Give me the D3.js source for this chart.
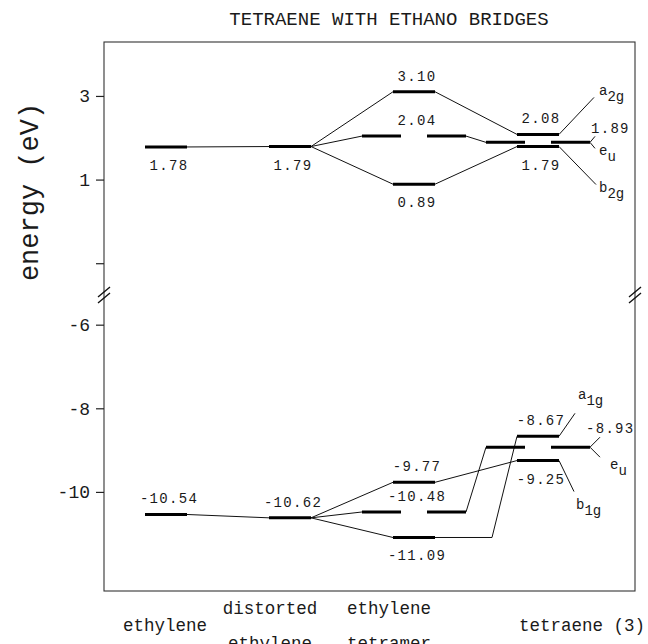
<!DOCTYPE html>
<html>
<head>
<meta charset="utf-8">
<script src="https://cdn.jsdelivr.net/npm/d3@7"></script>
<style>
  body { margin: 0; background: #fff; }
  text { font-family: "Liberation Mono", "DejaVu Sans Mono", monospace; fill: #1a1a1a; }
</style>
</head>
<body>
<svg id="chart" width="648" height="644"></svg>
<script>
// ---- data ----
const title = "TETRAENE WITH ETHANO BRIDGES";
const categories = ["ethylene", "distorted\nethylene", "ethylene\ntetramer", "tetraene (3)"];
const yTickValues = [3, 1, -1, -6, -8, -10];
const yTickLabels = ["3", "1", "", "-6", "-8", "-10"];

// orbital levels (eV); pair = degenerate level drawn as two half bars
const upperLevels = [
  { id: "u0", col: 0, e: 1.78 },
  { id: "u1", col: 1, e: 1.79 },
  { id: "u2a", col: 2, e: 3.10 },
  { id: "u2b", col: 2, e: 2.04, pair: true },
  { id: "u2c", col: 2, e: 0.89 },
  { id: "u3a", col: 3, e: 2.08 },
  { id: "u3b", col: 3, e: 1.89, pair: true },
  { id: "u3c", col: 3, e: 1.79 }
];
const lowerLevels = [
  { id: "l0", col: 0, e: -10.54 },
  { id: "l1", col: 1, e: -10.62 },
  { id: "l2a", col: 2, e: -9.77 },
  { id: "l2b", col: 2, e: -10.48, pair: true },
  { id: "l2c", col: 2, e: -11.09 },
  { id: "l3a", col: 3, e: -8.67 },
  { id: "l3b", col: 3, e: -8.93, pair: true },
  { id: "l3c", col: 3, e: -9.25 }
];
const links = [
  ["u0", "u1"], ["u1", "u2a"], ["u1", "u2b"], ["u1", "u2c"],
  ["u2a", "u3a"], ["u2b", "u3b"], ["u2c", "u3c"],
  ["l0", "l1"], ["l1", "l2a"], ["l1", "l2b"], ["l1", "l2c"],
  ["l2a", "l3c"], ["l2b", "l3b"], ["l2c", "l3a", "elbow"]
];
const symmetry = [
  { id: "u3a", sym: "a", sub: "2g" },
  { id: "u3b", sym: "e", sub: "u" },
  { id: "u3c", sym: "b", sub: "2g" },
  { id: "l3a", sym: "a", sub: "1g" },
  { id: "l3b", sym: "e", sub: "u" },
  { id: "l3c", sym: "b", sub: "1g" }
];

// ---- layout ----
const width = 648, height = 644;
const margin = { top: 42, right: 13, bottom: 53, left: 104 };
const innerW = width - margin.left - margin.right;
const innerH = height - margin.top - margin.bottom;
const breakY = 253;

const labelSide = {
  u0: "below", u1: "below", u2a: "above", u2b: "above", u2c: "below",
  u3a: "above", u3b: "right", u3c: "below",
  l0: "above", l1: "above", l2a: "above", l2b: "above", l2c: "below",
  l3a: "above", l3b: "right", l3c: "below"
};
const leaders = {
  u3a: { dx: 35, dy: -37, lx: 40, ly: -39 },
  u3c: { dx: 37, dy: 38, lx: 40, ly: 45 },
  l3a: { dx: 16, dy: -23, lx: 19, ly: -37 },
  l3c: { dx: 15, dy: 31, lx: 17, ly: 48 },
  u3b: { dx: 5, dy: 6, lx: 9, ly: 13, fork: true },
  l3b: { dx: 10, dy: 10, lx: 20, ly: 22, fork: true }
};
const catLabelShift = [-1, -20, -25, 44];

const svg = d3.select("#chart");
const g = svg.append("g").attr("transform", `translate(${margin.left},${margin.top})`);

const x = d3.scalePoint().domain(d3.range(categories.length)).range([62, 434]);
const y = d3.scaleLinear()
  .domain([-12.37, -5.29, -1.76, 4.29])
  .range([innerH, breakY, breakY, 0]);

// title
svg.append("text")
  .attr("x", 389).attr("y", 25)
  .attr("text-anchor", "middle")
  .style("font-size", "19px")
  .text(title);

// frame
g.append("rect")
  .attr("width", innerW).attr("height", innerH)
  .attr("fill", "none").attr("stroke", "#333").attr("stroke-width", 1.1);

// y axis
const yAxis = g.append("g")
  .call(d3.axisLeft(y).tickValues(yTickValues)
    .tickFormat((d, i) => yTickLabels[i]).tickSize(8).tickPadding(6));
yAxis.select(".domain").remove();
yAxis.selectAll(".tick line").attr("stroke", "#222").attr("stroke-width", 1.2);
yAxis.selectAll(".tick text")
  .style("font-family", "'Liberation Mono', monospace")
  .style("font-size", "18px").attr("fill", "#1a1a1a");

// axis break marks
[0, innerW].forEach(bx => {
  [-3, 3].forEach(o => {
    g.append("line")
      .attr("x1", bx - 6).attr("y1", breakY + o + 5)
      .attr("x2", bx + 6).attr("y2", breakY + o - 5)
      .attr("stroke", "#111").attr("stroke-width", 1.4);
  });
});

// y axis title
svg.append("text")
  .attr("transform", "translate(38,192) rotate(-90)")
  .attr("text-anchor", "middle")
  .style("font-size", "27px")
  .text("energy (eV)");

// category labels
categories.forEach((c, i) => {
  const lines = c.split("\n");
  const t = svg.append("text")
    .attr("text-anchor", "middle")
    .style("font-size", "17.5px");
  const cx = margin.left + x(i) + catLabelShift[i];
  if (lines.length === 1) {
    t.attr("x", cx).attr("y", 631).text(c);
  } else {
    lines.forEach((ln, k) => {
      t.append("tspan").attr("x", cx).attr("y", 614 + k * 35).text(ln);
    });
  }
});

// levels
const levels = upperLevels.concat(lowerLevels);
const byId = new Map(levels.map(d => [d.id, d]));
const halfW = 21, pairGap = 13, pairW = 39;

function ends(d) {
  const cx = x(d.col);
  return d.pair ? [cx - pairGap - pairW, cx + pairGap + pairW] : [cx - halfW, cx + halfW];
}
function pieces(d) {
  const cx = x(d.col);
  if (!d.pair) return [[cx - halfW, cx + halfW]];
  return [[cx - pairGap - pairW, cx - pairGap], [cx + pairGap, cx + pairGap + pairW]];
}

// connectors
const line = d3.line();
links.forEach(([a, b, route]) => {
  const from = byId.get(a), to = byId.get(b);
  const p0 = [ends(from)[1], y(from.e)];
  const p1 = [ends(to)[0], y(to.e)];
  const pts = route === "elbow" ? [p0, [p1[0] - 25, p0[1]], p1] : [p0, p1];
  g.append("path")
    .attr("d", line(pts))
    .attr("fill", "none").attr("stroke", "#111").attr("stroke-width", 1);
});

// bars
levels.forEach(d => {
  pieces(d).forEach(([x0, x1]) => {
    g.append("line")
      .attr("x1", x0).attr("x2", x1)
      .attr("y1", y(d.e)).attr("y2", y(d.e))
      .attr("stroke", "#000").attr("stroke-width", 3);
  });
});

// value labels
levels.forEach(d => {
  const side = labelSide[d.id];
  const t = g.append("text")
    .style("font-size", "14px")
    .style("letter-spacing", "1.3px")
    .text(d.e.toFixed(2));
  if (side === "right") {
    t.attr("x", ends(d)[1] + (d.e > 0 ? 1 : -4)).attr("y", y(d.e) - (d.e > 0 ? 9 : 14));
  } else {
    t.attr("text-anchor", "middle")
      .attr("x", x(d.col) + 3)
      .attr("y", y(d.e) + (side === "above" ? -11 : 23));
  }
});

// symmetry labels with leader lines
symmetry.forEach(s => {
  const d = byId.get(s.id);
  const L = leaders[s.id];
  const x0 = ends(d)[1], y0 = y(d.e);
  if (L.fork) {
    [-1, 1].forEach(sg => {
      g.append("line")
        .attr("x1", x0).attr("y1", y0)
        .attr("x2", x0 + L.dx).attr("y2", y0 + sg * L.dy)
        .attr("stroke", "#111").attr("stroke-width", 1);
    });
  } else {
    g.append("line")
      .attr("x1", x0).attr("y1", y0)
      .attr("x2", x0 + L.dx).attr("y2", y0 + L.dy)
      .attr("stroke", "#111").attr("stroke-width", 1);
  }
  const t = g.append("text")
    .attr("x", x0 + L.lx).attr("y", y0 + L.ly)
    .style("font-size", "14px");
  t.append("tspan").text(s.sym);
  t.append("tspan").attr("dy", 6).text(s.sub);
});
</script>
</body>
</html>
